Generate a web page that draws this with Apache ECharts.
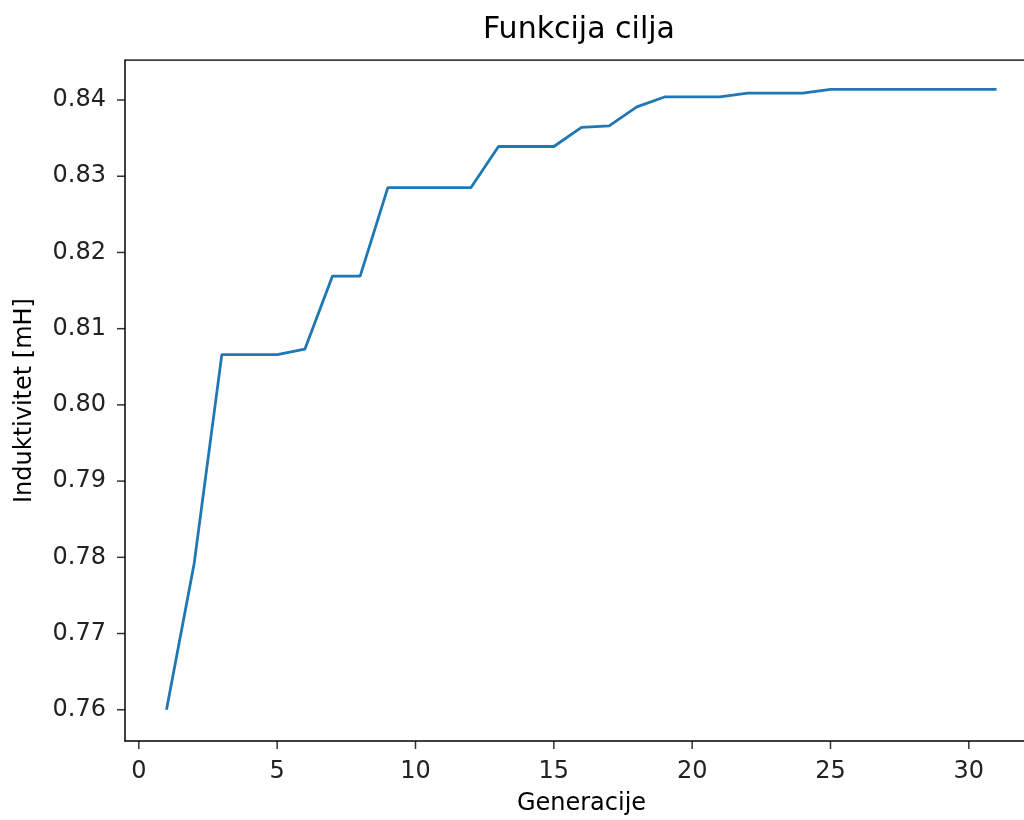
<!DOCTYPE html>
<html>
<head>
<meta charset="utf-8">
<script src="https://cdn.jsdelivr.net/npm/echarts@6/dist/echarts.min.js"></script>
<style>
  html, body { margin: 0; padding: 0; background: #fff; }
  #chart { width: 1024px; height: 820px; }
</style>
</head>
<body>
<div id="chart"></div>
<script>
// generations and best objective value per generation
const generations = [1, 2, 3, 4, 5, 6, 7, 8, 9, 10, 11, 12, 13, 14, 15, 16,
  17, 18, 19, 20, 21, 22, 23, 24, 25, 26, 27, 28, 29, 30, 31]
const inductance = [0.7600, 0.7792, 0.8066, 0.8066, 0.8066, 0.8073, 0.8169,
  0.8169, 0.8285, 0.8285, 0.8285, 0.8285, 0.8339, 0.8339, 0.8339, 0.8364,
  0.8366, 0.8391, 0.8404, 0.8404, 0.8404, 0.8409, 0.8409, 0.8409, 0.8414,
  0.8414, 0.8414, 0.8414, 0.8414, 0.8414, 0.8414]
const xTicks = [0, 5, 10, 15, 20, 25, 30]
const yTicks = [0.76, 0.77, 0.78, 0.79, 0.80, 0.81, 0.82, 0.83, 0.84]

const font = 'DejaVu Sans'
const tickFont = 24
const xMin = -0.5
const xMax = 32.5
const yMin = 0.7559
const yMax = 0.84525
const tickLen = 8

const myChart = echarts.init(document.getElementById('chart'))

myChart.setOption({
  animation: false,
  title: {
    text: 'Funkcija cilja',
    left: 483,
    top: 15,
    padding: 0,
    textStyle: { fontFamily: font, fontSize: 30, fontWeight: 'normal', color: '#000' },
  },
  // axes box runs past the right edge of the picture, as in the reference
  grid: {
    left: 125,
    width: 913,
    top: 60,
    bottom: 79,
    containLabel: false,
    outerBoundsMode: 'none',
  },
  xAxis: {
    type: 'value',
    min: xMin,
    max: xMax,
    name: 'Generacije',
    nameLocation: 'middle',
    nameGap: 51,
    nameTextStyle: { fontFamily: font, fontSize: tickFont, color: '#000' },
    axisLine: { show: true, onZero: false, lineStyle: { color: '#000', width: 1.5 } },
    axisTick: { show: false },
    axisLabel: {
      customValues: xTicks,
      margin: 19,
      fontFamily: font,
      fontSize: tickFont,
      color: '#222',
    },
    splitLine: { show: false },
  },
  yAxis: {
    type: 'value',
    min: yMin,
    max: yMax,
    name: 'Induktivitet [mH]',
    nameLocation: 'middle',
    nameGap: 88,
    nameTextStyle: { fontFamily: font, fontSize: tickFont, color: '#000' },
    axisLine: { show: true, onZero: false, lineStyle: { color: '#000', width: 1.5 } },
    axisTick: { show: false },
    axisLabel: {
      customValues: yTicks,
      margin: 19,
      fontFamily: font,
      fontSize: tickFont,
      color: '#222',
      formatter: (v) => v.toFixed(2),
    },
    splitLine: { show: false },
  },
  series: [
    {
      type: 'line',
      data: generations.map((g, i) => [g, inductance[i]]),
      showSymbol: false,
      lineStyle: { color: '#1f77b4', width: 2.8 },
      itemStyle: { color: '#1f77b4' },
      z: 3,
    },
    {
      // top spine of the axes box
      type: 'line',
      data: [[xMin, yMax], [xMax, yMax]],
      showSymbol: false,
      silent: true,
      lineStyle: { color: '#000', width: 1.5 },
    },
    {
      // x tick marks, hanging below the bottom spine
      type: 'scatter',
      clip: false,
      silent: true,
      symbol: 'rect',
      symbolSize: [1.5, tickLen],
      symbolOffset: [0, tickLen / 2],
      itemStyle: { color: '#000' },
      data: xTicks.map((v) => [v, yMin]),
    },
    {
      // y tick marks, left of the left spine
      type: 'scatter',
      clip: false,
      silent: true,
      symbol: 'rect',
      symbolSize: [tickLen, 1.5],
      symbolOffset: [-tickLen / 2, 0],
      itemStyle: { color: '#000' },
      data: yTicks.map((v) => [xMin, v]),
    },
  ],
})
</script>
</body>
</html>
